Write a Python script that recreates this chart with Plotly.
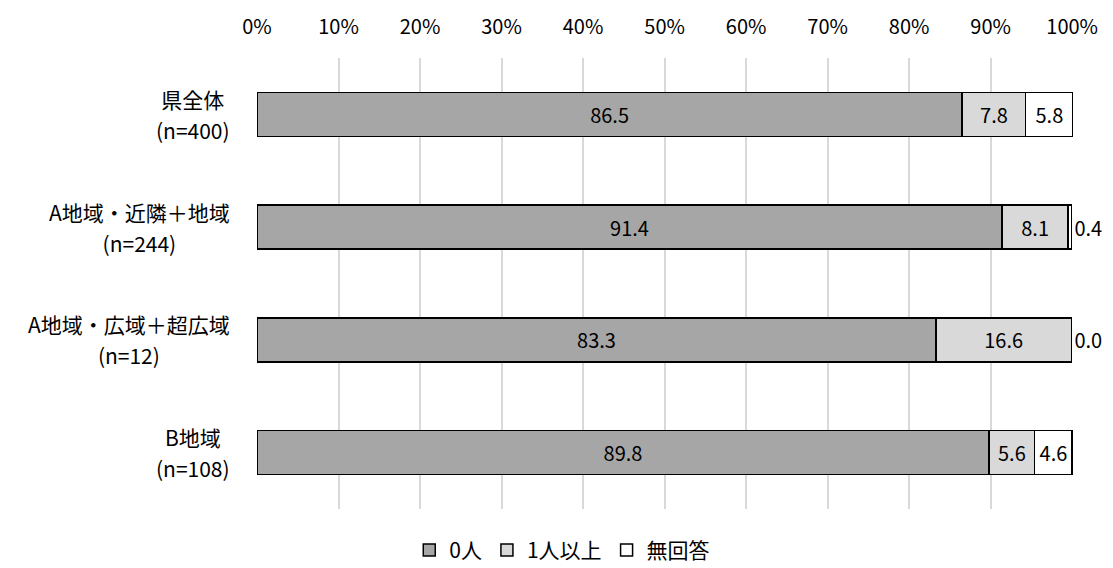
import plotly.graph_objects as go

categories = ["県全体", "A地域・近隣＋地域", "A地域・広域＋超広域", "B地域"]
sample_sizes = ["(n=400)", "(n=244)", "(n=12)", "(n=108)"]
series_names = ["0人", "1人以上", "無回答"]
zero_people = [86.5, 91.4, 83.3, 89.8]
one_or_more = [7.8, 8.1, 16.6, 5.6]
no_answer = [5.8, 0.4, 0.0, 4.6]
x_ticks = [0, 10, 20, 30, 40, 50, 60, 70, 80, 90, 100]
x_tick_labels = [f"{t}%" for t in x_ticks]

FONT = "Noto Sans CJK JP, Noto Sans, sans-serif"
colors = ["#a6a6a6", "#d9d9d9", "#ffffff"]
values = [zero_people, one_or_more, no_answer]

fig = go.Figure()
for name, vals, col in zip(series_names, values, colors):
    if name == "無回答":
        tpos = ["outside" if v < 1 else "inside" for v in vals]
    else:
        tpos = "inside"
    fig.add_trace(go.Bar(
        y=categories, x=vals, name=name, orientation="h",
        marker=dict(color=col, line=dict(color="#000000", width=1.5)),
        texttemplate="%{x:.1f}", textposition=tpos,
        insidetextanchor="middle", constraintext="none",
        textfont=dict(family=FONT, size=20, color="#000000"),
        cliponaxis=False, width=0.39,
    ))

for cat, n in zip(categories, sample_sizes):
    fig.add_annotation(
        x=0, xref="paper", xshift=-25, y=cat, yref="y",
        xanchor="right", yanchor="middle", align="center", showarrow=False,
        text=f"<span style='font-size:21px'>{cat}</span><br><span style='font-size:21px'>{n}</span>",
        font=dict(family=FONT, size=24, color="#000000"),
    )

fig.update_layout(
    barmode="stack", width=1113, height=568,
    margin=dict(l=249, r=48, t=50, b=67, autoexpand=False),
    paper_bgcolor="white", plot_bgcolor="white",
    font=dict(family=FONT, size=20, color="#000000"),
    showlegend=True,
    legend=dict(orientation="h", xref="container", yref="container",
                x=0.498, xanchor="center", y=0.045, yanchor="middle",
                font=dict(family=FONT, size=21, color="#000000"),
                traceorder="normal", itemwidth=30),
    xaxis=dict(side="top", range=[0, 100.1], tickvals=x_ticks, ticktext=x_tick_labels,
               showgrid=True, gridcolor="#d9d9d9", gridwidth=1.5, zeroline=False,
               showline=False, ticks="", ticklabelstandoff=19, automargin=False,
               tickfont=dict(family=FONT, size=20, color="#000000")),
    yaxis=dict(categoryorder="array", categoryarray=categories, autorange="reversed",
               showticklabels=False, showgrid=False, zeroline=False, showline=False,
               automargin=False),
)

fig.write_html("out.html")
